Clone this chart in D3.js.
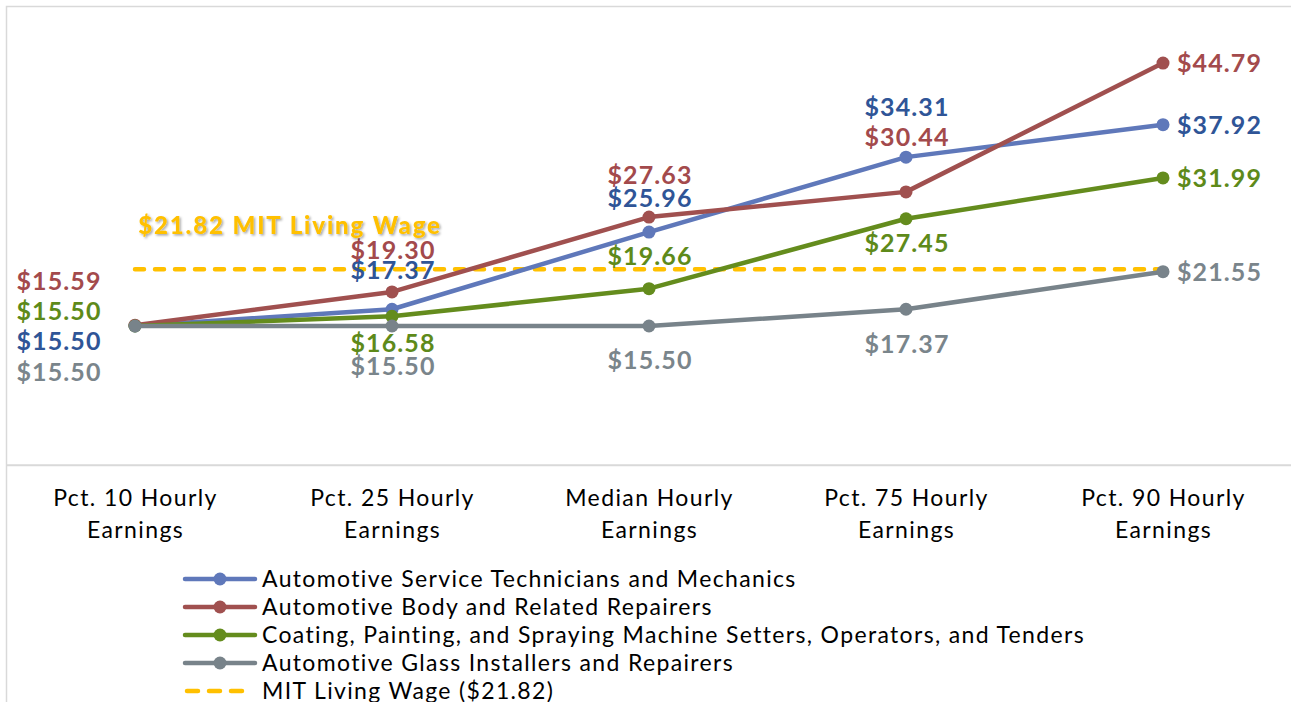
<!DOCTYPE html>
<html><head><meta charset="utf-8">
<script src="https://cdn.jsdelivr.net/npm/d3@7"></script>
<style>
body{margin:0;background:#fff;}
svg{display:block;}
</style></head>
<body>
<svg id="chart" width="1291" height="702"></svg>
<script>
// ---- data ----
const categories = [["Pct. 10 Hourly","Earnings"],["Pct. 25 Hourly","Earnings"],["Median Hourly","Earnings"],["Pct. 75 Hourly","Earnings"],["Pct. 90 Hourly","Earnings"]];
const seriesNames = [
  "Automotive Service Technicians and Mechanics",
  "Automotive Body and Related Repairers",
  "Coating, Painting, and Spraying Machine Setters, Operators, and Tenders",
  "Automotive Glass Installers and Repairers"
];
const serviceTech = [15.50, 17.37, 25.96, 34.31, 37.92];
const bodyRepair  = [15.59, 19.30, 27.63, 30.44, 44.79];
const coating     = [15.50, 16.58, 19.66, 27.45, 31.99];
const glass       = [15.50, 15.50, 15.50, 17.37, 21.55];
const livingWage = 21.82;
const livingWageLabel = "MIT Living Wage ($21.82)";
const livingWageNote = "$21.82 MIT Living Wage";
const yDomain = [0, 50];

// ---- styles / positions (not data) ----
const lineColors = ["#5f78ba", "#a0504f", "#648c1d", "#78838a"];
const textColors = ["#2f5597", "#a34a4c", "#5e8a1a", "#7a858b"];
const gold = "#ffc000";
// label offsets [dx, dy] relative to each point; "R" = right of point
const labelOffsets = [
  [[-77, 15], [0, -39], [0, -34], [0, -50], "R"],
  [[-77, -44], [0, -42], [0, -42], [0, -55], "R"],
  [[-77, -15], [0, 27], [0, -33], [0, 24], "R"],
  [[-77, 46], [0, 40], [0, 34], [0, 35], "R"]
];
const allSeries = [serviceTech, bodyRepair, coating, glass];

const svg = d3.select("#chart");
const FONT = "Lato, 'Noto Sans', sans-serif";

// frame
svg.append("rect").attr("x", 6.5).attr("y", 6.5).attr("width", 1300).attr("height", 720)
  .attr("fill", "#fff").attr("stroke", "#d9d9d9").attr("stroke-width", 1.5);

const x = d3.scalePoint().domain(d3.range(categories.length)).range([135, 1163]);
const y = d3.scaleLinear().domain(yDomain).range([465.2, 16.25]);

// category axis
const xAxis = svg.append("g").attr("transform", `translate(0,${y(0)})`)
  .call(d3.axisBottom(x).tickSize(0).tickFormat(""));
xAxis.select(".domain").remove();
svg.append("line").attr("x1", 7).attr("x2", 1291).attr("y1", y(0)).attr("y2", y(0))
  .attr("stroke", "#d9d9d9").attr("stroke-width", 2);
xAxis.selectAll(".tick").each(function(d){
  const t = d3.select(this).append("text").attr("fill", "#000")
    .attr("font-family", FONT).attr("font-size", 23).attr("letter-spacing", 1.4)
    .attr("text-anchor", "middle");
  categories[d].forEach((line, i) => {
    t.append("tspan").attr("x", 0).attr("y", 41 + i * 32).text(line);
  });
});

// living wage dashed line
svg.append("line").attr("x1", x(0)).attr("x2", x(categories.length - 1))
  .attr("y1", y(livingWage)).attr("y2", y(livingWage))
  .attr("stroke", gold).attr("stroke-width", 4.5)
  .attr("stroke-dasharray", "9,11").attr("stroke-linecap", "round");

// series lines
const line = d3.line().x((d, i) => x(i)).y(d => y(d));
allSeries.forEach((s, si) => {
  const g = svg.append("g");
  g.append("path").datum(s).attr("d", line).attr("fill", "none")
    .attr("stroke", lineColors[si]).attr("stroke-width", 4.5).attr("stroke-linejoin", "round");
  g.selectAll("circle").data(s).join("circle")
    .attr("cx", (d, i) => x(i)).attr("cy", d => y(d)).attr("r", 6.5)
    .attr("fill", lineColors[si]);
});

// labels
allSeries.forEach((s, si) => {
  svg.append("g").selectAll("text").data(s).join("text")
    .attr("font-family", FONT).attr("font-weight", 700).attr("font-size", 25)
    .attr("letter-spacing", 1.1)
    .attr("fill", textColors[si])
    .each(function(d, i){
      const o = labelOffsets[si][i];
      const t = d3.select(this);
      if (o === "R") {
        t.attr("x", x(i) + 14).attr("y", y(d)).attr("text-anchor", "start");
      } else {
        t.attr("x", x(i) + o[0] + 1).attr("y", y(d) + o[1]).attr("text-anchor", "middle");
      }
    })
    .attr("dy", "0.36em")
    .text(d => "$" + d.toFixed(2));
});

// living wage annotation
const defs = svg.append("defs");
const f = defs.append("filter").attr("id", "shadow").attr("x", "-10%").attr("y", "-30%").attr("width", "120%").attr("height", "160%");
f.append("feDropShadow").attr("dx", 1.5).attr("dy", 1.5).attr("stdDeviation", 1).attr("flood-color", "#000").attr("flood-opacity", 0.35);
svg.append("text").attr("x", 290).attr("y", y(livingWage) - 44).attr("dy", "0.36em")
  .attr("text-anchor", "middle").attr("font-family", FONT).attr("font-weight", 900)
  .attr("font-size", 24).attr("letter-spacing", 1.9).attr("fill", gold).attr("filter", "url(#shadow)")
  .text(livingWageNote);

// legend
const legend = svg.append("g").attr("transform", "translate(185,579)");
const items = seriesNames.map((n, i) => ({name: n, color: lineColors[i], dashed: false}))
  .concat([{name: livingWageLabel, color: gold, dashed: true}]);
items.forEach((it, i) => {
  const g = legend.append("g").attr("transform", `translate(0,${i * 28})`);
  if (it.dashed) {
    g.append("line").attr("x1", 2).attr("x2", 68).attr("y1", 0).attr("y2", 0)
      .attr("stroke", it.color).attr("stroke-width", 4.5)
      .attr("stroke-dasharray", "11,11").attr("stroke-linecap", "round");
  } else {
    g.append("line").attr("x1", 0).attr("x2", 70).attr("y1", 0).attr("y2", 0)
      .attr("stroke", it.color).attr("stroke-width", 4.5).attr("stroke-linecap", "round");
    g.append("circle").attr("cx", 35).attr("cy", 0).attr("r", 6.5).attr("fill", it.color);
  }
  g.append("text").attr("x", 77).attr("y", 0).attr("dy", "0.36em")
    .attr("font-family", FONT).attr("font-size", 23).attr("letter-spacing", 1.35)
    .attr("fill", "#000").text(it.name);
});
</script>
</body></html>
